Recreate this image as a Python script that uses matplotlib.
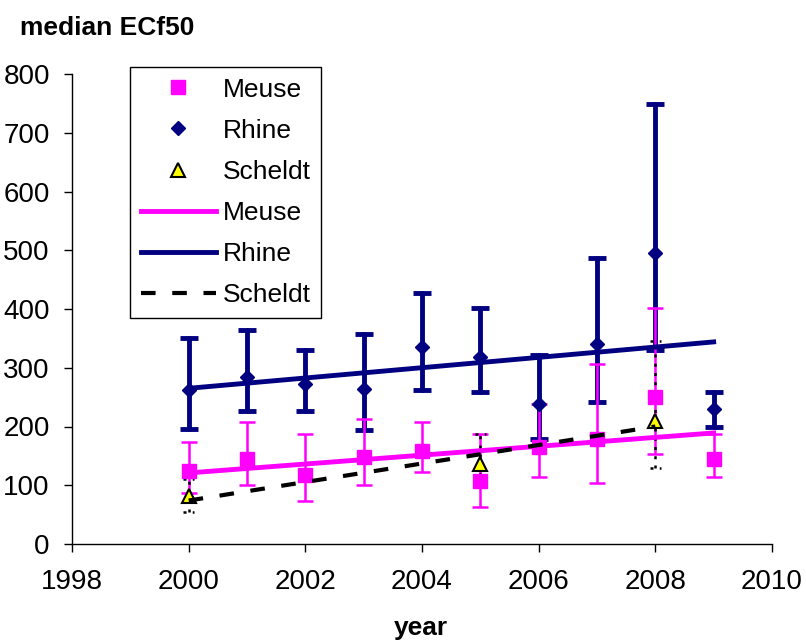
"""
Median ECf50 per year for Meuse, Rhine and Scheldt with error bars and trend lines
"""

import matplotlib
matplotlib.use("Agg")
import matplotlib.pyplot as plt
from matplotlib.lines import Line2D

plt.rcParams['font.family'] = ['Liberation Sans', 'DejaVu Sans']

# Data
years = [2000, 2001, 2002, 2003, 2004, 2005, 2006, 2007, 2008, 2009]

meuse = [124, 144, 117, 148, 158, 107, 165, 178, 250, 144]
meuse_hi = [173, 207, 187, 212, 207, 187, 238, 306, 402, 188]
meuse_lo = [87, 100, 73, 100, 122, 63, 114, 104, 154, 114]

rhine = [262, 285, 273, 263, 336, 319, 239, 340, 496, 229]
rhine_hi = [351, 364, 330, 357, 427, 402, 321, 486, 749, 258]
rhine_lo = [195, 226, 226, 194, 262, 259, 178, 241, 331, 200]

scheldt_years = [2000, 2005, 2008]
scheldt = [81, 136, 210]
scheldt_hi = [110, 187, 345]
scheldt_lo = [54, 100, 129]

# trend line end points
meuse_trend_x = [2000, 2009]
meuse_trend_y = [121, 189]
rhine_trend_x = [2000, 2009]
rhine_trend_y = [265, 344]
scheldt_trend_x = [2000, 2008]
scheldt_trend_y = [74, 200]

MAGENTA = '#FF00FF'
NAVY = '#000080'
DOTS = (0, (1.2, 2.5))


def err(vals, hi, lo):
    return [[v - l for v, l in zip(vals, lo)], [h - v for v, h in zip(vals, hi)]]


fig = plt.figure(figsize=(8.06, 6.41), dpi=100)
ax = fig.add_axes([72 / 806, 1 - 544 / 641, 700 / 806, 470 / 641])

# error bars + points
rb = ax.errorbar(years, rhine, yerr=err(rhine, rhine_hi, rhine_lo), fmt='none',
                 ecolor=NAVY, elinewidth=3.5, capsize=6.5, capthick=3.5, zorder=2)
for col in rb[2]:
    col.set_capstyle('round')
ax.errorbar(years, meuse, yerr=err(meuse, meuse_hi, meuse_lo), fmt='none',
            ecolor=MAGENTA, elinewidth=1.8, capsize=6, capthick=1.8, zorder=2)
# Scheldt: dotted bars and dotted caps
ax.vlines(scheldt_years, scheldt_lo, scheldt_hi, colors='black',
          linewidth=1.8, linestyles=[DOTS], zorder=2)
cap_w = 0.1
for x, lo, hi in zip(scheldt_years, scheldt_lo, scheldt_hi):
    ax.hlines([lo, hi], x - cap_w, x + cap_w, colors='black', linewidth=1.8,
              linestyles=[DOTS], zorder=2)

ax.plot(years, meuse, 's', color=MAGENTA, markersize=10, zorder=3)
ax.plot(years, rhine, 'D', color=NAVY, markersize=7, zorder=3)
ax.plot(scheldt_years, scheldt, '^', color='#FFFF00', markeredgecolor='black',
        markeredgewidth=1.5, markersize=10, zorder=3)

# trend lines
ax.plot(meuse_trend_x, meuse_trend_y, color=MAGENTA, lw=3.5, zorder=4)
ax.plot(rhine_trend_x, rhine_trend_y, color=NAVY, lw=3.5, zorder=4)
ax.plot(scheldt_trend_x, scheldt_trend_y, color='black', lw=3,
        dashes=(3.5, 4), zorder=4)

ax.set_xlim(1998, 2010)
ax.set_ylim(0, 800)
ax.set_xticks(range(1998, 2011, 2))
ax.set_yticks(range(0, 801, 100))
ax.tick_params(direction='out', length=6, width=1, labelsize=20)
ax.tick_params(axis='x', pad=12)
ax.tick_params(axis='y', pad=10)
for s in ['top', 'right']:
    ax.spines[s].set_visible(False)
for s in ['left', 'bottom']:
    ax.spines[s].set_linewidth(1)

fig.text(20 / 806, 1 - 28 / 641, 'median ECf50', fontsize=19, fontweight='bold',
         va='center', ha='left')
fig.text(421 / 806, 1 - 628 / 641, 'year', fontsize=19, fontweight='bold',
         va='center', ha='center')

handles = [
    Line2D([], [], ls='none', marker='s', color=MAGENTA, markersize=10),
    Line2D([], [], ls='none', marker='D', color=NAVY, markersize=7),
    Line2D([], [], ls='none', marker='^', color='#FFFF00', markeredgecolor='black',
           markeredgewidth=1.5, markersize=10),
    Line2D([], [], color=MAGENTA, lw=3.5),
    Line2D([], [], color=NAVY, lw=3.5),
    Line2D([], [], color='black', lw=3, dashes=(3.5, 4)),
]
labels = ['Meuse', 'Rhine', 'Scheldt', 'Meuse', 'Rhine', 'Scheldt']
leg = fig.legend(handles, labels, loc='upper left',
                 bbox_to_anchor=(130 / 806, 1 - 67 / 641),
                 fontsize=19, frameon=True, fancybox=False, framealpha=1,
                 edgecolor='black', handlelength=2.85, handletextpad=0.27,
                 labelspacing=0.65, borderpad=0.4, borderaxespad=0)
leg.get_frame().set_linewidth(1)

fig.savefig('out.png', dpi=100)
